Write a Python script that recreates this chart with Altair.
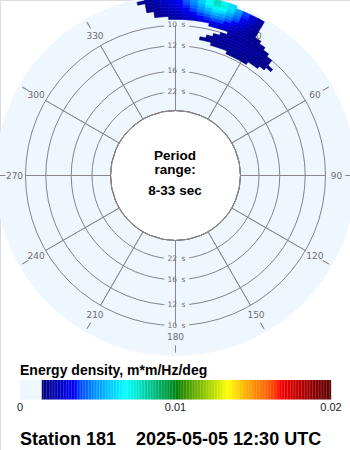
import altair as alt
import numpy as np
import pandas as pd

# ---------------- data ----------------
period_min = 8
period_max = 33
circle_periods = [10, 12, 16, 22]
direction_labels = [0, 30, 60, 90, 120, 150, 180, 210, 240, 270, 300, 330]

# energy density cells: 2.5-degree direction bins x 0.0025 Hz frequency bins
# each row: lower frequency edge, first direction bin (deg), values of consecutive bins
blob_freq = [0.0850, 0.0875, 0.0900, 0.0925, 0.0950, 0.0975, 0.1000, 0.1025,
             0.1050, 0.1075, 0.1100, 0.1125, 0.1150, 0.1175, 0.1200, 0.1225]
blob_dir_start = [22.5, 15, 10, 12.5, 15, 17.5, 20, 12.5,
                  -2.5, -7.5, -7.5, -10, -10, -10, -12.5, -10]
blob_values = [
    [0.0015, 0.0016, 0.0016, 0.0015],
    [0.0016, 0.0017, 0.0017, 0.0017, 0.0017, 0.0017, 0.0017, 0.0016, 0.0016],
    [0.0015, 0.0016, 0.0017, 0.0018, 0.0018, 0.0018, 0.0018, 0.0018, 0.0017, 0.0017, 0.0016, 0.0015],
    [0.0016, 0.0017, 0.0018, 0.0019, 0.0019, 0.0019, 0.0019, 0.0018, 0.0018, 0.0017, 0.0016, 0.0015],
    [0.0017, 0.0018, 0.0019, 0.0019, 0.0019, 0.0019, 0.0018, 0.0018, 0.0017, 0.0016],
    [0.0018, 0.0019, 0.0019, 0.0019, 0.0019, 0.0018, 0.0018, 0.0017, 0.0016],
    [0.0021, 0.0020, 0.0019, 0.0018, 0.0017, 0.0016, 0.0016],
    [0.0026, 0.0026, 0.0024, 0.0022, 0.0020, 0.0019, 0.0018, 0.0017, 0.0016],
    [0.0019, 0.0021, 0.0024, 0.0026, 0.0029, 0.0031, 0.0033, 0.0032, 0.0029, 0.0026,
     0.0023, 0.0020, 0.0017, 0.0016],
    [0.0016, 0.0018, 0.0021, 0.0024, 0.0027, 0.0030, 0.0033, 0.0036, 0.0039, 0.0038,
     0.0034, 0.0030, 0.0025, 0.0021, 0.0017],
    [0.0017, 0.0020, 0.0023, 0.0026, 0.0030, 0.0034, 0.0038, 0.0042, 0.0046, 0.0045,
     0.0040, 0.0034, 0.0028, 0.0022, 0.0017],
    [0.0016, 0.0019, 0.0022, 0.0025, 0.0029, 0.0033, 0.0038, 0.0044, 0.0049, 0.0054,
     0.0052, 0.0046, 0.0039, 0.0031, 0.0024, 0.0018],
    [0.0017, 0.0020, 0.0023, 0.0027, 0.0031, 0.0036, 0.0042, 0.0049, 0.0056, 0.0062,
     0.0060, 0.0052, 0.0043, 0.0034, 0.0026, 0.0019],
    [0.0018, 0.0021, 0.0025, 0.0029, 0.0033, 0.0039, 0.0046, 0.0054, 0.0063,
     0.0070, 0.0067, 0.0058, 0.0047, 0.0036, 0.0027, 0.0020],
    [0.0016, 0.0019, 0.0022, 0.0026, 0.0030, 0.0035, 0.0041, 0.0049, 0.0058, 0.0068,
     0.0076, 0.0072, 0.0062, 0.0050, 0.0038, 0.0028, 0.0020],
    [0.0019, 0.0023, 0.0027, 0.0031, 0.0036, 0.0042, 0.0050, 0.0060, 0.0070, 0.0078,
     0.0070, 0.0060],
]
dir_step = 2.5
freq_step = 0.0025

color_domain = [0, 0.00135, 0.00136, 0.0035, 0.0068, 0.0101, 0.0133, 0.0150, 0.0166, 0.02]
bar_ticks = [0, 0.01, 0.02]
bar_tick_labels = ["0", "0.01", "0.02"]
legend_title = "Energy density, m*m/Hz/deg"
station_title = "Station 181\u00a0\u00a0\u00a0\u00a02025-05-05 12:30 UTC"

# ---------------- styles ----------------
BG = "#EEF6FE"
GRID = "#858585"
LABEL = "#6E6E6E"
CX, CY = 175.5, 175.5
color_range = [BG, BG, "#00007F", "#0000FF", "#00FFFF", "#008000",
               "#FFFF00", "#FF8C00", "#FF0000", "#000000"]

theta_scale = alt.Scale(type="linear", domain=[0, 360], range=[0, 2 * np.pi], nice=False, zero=False)
radius_scale = alt.Scale(type="linear", domain=[1 / period_max, 1 / period_min],
                         range=[65, 180.5], nice=False, zero=False)
color_scale = alt.Scale(type="linear", domain=color_domain, range=color_range, clamp=True)
bar_x_scale = alt.Scale(type="linear", domain=[0, 0.02], range=[20, 331], nice=False, zero=False)

# ---------------- tables ----------------
disk_df = pd.DataFrame({"f_in": [1 / period_max], "f_out": [1 / period_min]})
circ_df = pd.DataFrame({"p": circle_periods})
spoke_df = pd.DataFrame({"a": direction_labels,
                         "f_in": 1 / period_max,
                         "f_out": 1 / min(circle_periods)})
clab_df = pd.DataFrame([{"p": p, "ang": ang} for p in circle_periods for ang in (0, 180)])
cells = []
for f0, d_start, vals in zip(blob_freq, blob_dir_start, blob_values):
    for k, e in enumerate(vals):
        d0 = d_start + k * dir_step
        cells.append({"d0": d0, "d1": d0 + dir_step, "f0": f0, "f1": f0 + freq_step, "e": e})
cell_df = pd.DataFrame(cells)
tick_df = pd.DataFrame({"v": bar_ticks, "label": bar_tick_labels})

center = dict(x=alt.value(CX), y=alt.value(CY))


def R(field):
    return alt.Radius(field, scale=radius_scale, stack=None)


def T(field):
    return alt.Theta(field, scale=theta_scale, stack=None)


disk = alt.Chart(disk_df).mark_arc(fill=BG).encode(
    theta=alt.value(0), theta2=alt.value(2 * np.pi),
    radius=R("f_out:Q"), radius2="f_in:Q", **center)

circles = alt.Chart(circ_df).transform_calculate(f="1/datum.p").mark_arc(
    fill=BG, fillOpacity=0, stroke=GRID, strokeWidth=1).encode(
    theta=alt.value(0), theta2=alt.value(2 * np.pi),
    radius=R("f:Q"), **center)

clab_base = alt.Chart(clab_df).transform_calculate(f="1/datum.p")
halo_num = clab_base.mark_text(font="DejaVu Sans", fontSize=7.5, align="right", baseline="middle",
                               dx=1.5, fill=BG, stroke=BG, strokeWidth=8).encode(
    theta=T("ang:Q"), radius=R("f:Q"), text="p:N", **center)
halo_s = clab_base.mark_text(font="DejaVu Sans", fontSize=7.5, align="left", baseline="middle",
                             dx=6, fill=BG, stroke=BG, strokeWidth=8, text="s").encode(
    theta=T("ang:Q"), radius=R("f:Q"), **center)

spokes = alt.Chart(spoke_df).mark_arc(fill=BG, fillOpacity=0, stroke=GRID, strokeWidth=1,
                                      strokeOpacity=0.8).encode(
    theta=T("a:Q"), theta2="a:Q",
    radius=R("f_out:Q"), radius2="f_in:Q", **center)

outer_ticks = alt.Chart(spoke_df).mark_arc(fill=BG, fillOpacity=0, stroke=GRID, strokeWidth=1,
                                           strokeOpacity=0.8).encode(
    theta=T("a:Q"), theta2="a:Q",
    radius=alt.value(177), radius2=alt.value(170), **center)

deg_labels = alt.Chart(spoke_df).mark_text(font="DejaVu Sans", fontSize=9, color=LABEL,
                                           align="center", baseline="middle").encode(
    theta=T("a:Q"), radius=alt.value(161), text=alt.Text("a:Q", format="d"), **center)

num_labels = clab_base.mark_text(font="DejaVu Sans", fontSize=7.5, align="right", baseline="middle",
                                 dx=1.5, color=LABEL).encode(
    theta=T("ang:Q"), radius=R("f:Q"), text="p:N", **center)
s_labels = clab_base.mark_text(font="DejaVu Sans", fontSize=7.5, align="left", baseline="middle",
                               dx=6, color=LABEL, text="s").encode(
    theta=T("ang:Q"), radius=R("f:Q"), **center)

blob = alt.Chart(cell_df).mark_arc(strokeWidth=0.6).encode(
    theta=T("d0:Q"), theta2="d1:Q",
    radius=R("f1:Q"), radius2="f0:Q",
    color=alt.Color("e:Q", scale=color_scale, legend=None),
    stroke=alt.Stroke("e:Q", scale=color_scale, legend=None), **center)

center_lines = ["Period", "range:", f"{period_min}-{period_max} sec"]
center_y = [159.5, 173.5, 194.5]
center_txt = [
    alt.Chart(pd.DataFrame({"t": [t]})).mark_text(
        font="Liberation Sans", fontSize=13.5, fontWeight="bold", color="#000",
        align="center", baseline="alphabetic").encode(
        x=alt.value(175), y=alt.value(yy), text="t:N")
    for t, yy in zip(center_lines, center_y)
]

bar = alt.Chart(alt.sequence(0, 0.02, 0.0001, as_="v")).transform_calculate(
    v2="datum.v + 0.00011").mark_rect().encode(
    x=alt.X("v:Q", scale=bar_x_scale, axis=None), x2="v2:Q",
    y=alt.value(380), y2=alt.value(399.5),
    color=alt.Color("v:Q", scale=color_scale, legend=None))

bar_labels = alt.Chart(tick_df).mark_text(
    font="Liberation Sans", fontSize=11, color="#222", align="center", baseline="alphabetic").encode(
    x=alt.X("v:Q", scale=bar_x_scale, axis=None), y=alt.value(411), text="label:N")

leg_title = alt.Chart(pd.DataFrame({"t": [legend_title]})).mark_text(
    font="Liberation Sans", fontSize=14, fontWeight="bold", color="#000",
    align="left", baseline="alphabetic").encode(x=alt.value(20), y=alt.value(375), text="t:N")

main_title = alt.Chart(pd.DataFrame({"t": [station_title]})).mark_text(
    font="Liberation Sans", fontSize=18, fontWeight="bold", color="#000",
    align="left", baseline="alphabetic").encode(x=alt.value(20), y=alt.value(445), text="t:N")

chart = alt.layer(
    disk, circles, halo_num, halo_s, spokes, outer_ticks, deg_labels, num_labels, s_labels,
    blob, *center_txt, bar, bar_labels, leg_title, main_title
).properties(
    width=350, height=450, autosize=alt.AutoSizeParams(type="none"), padding=0
).configure_view(stroke=None).configure(background="white")

chart.save("out.html", embed_options={"renderer": "svg", "actions": False})
